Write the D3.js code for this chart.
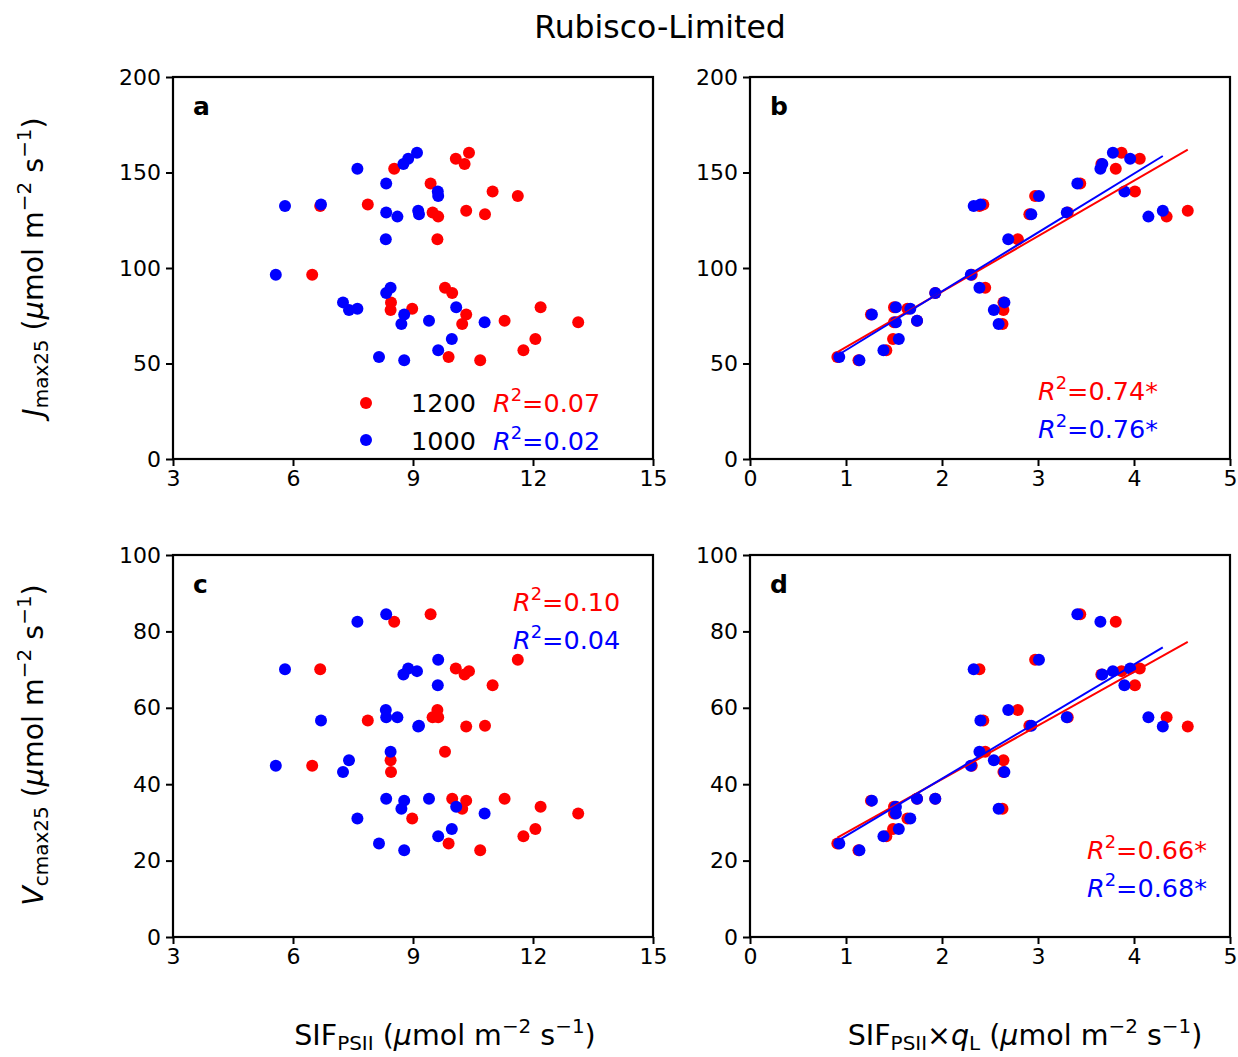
<!DOCTYPE html>
<html>
<head>
<meta charset="utf-8">
<script src="https://cdn.jsdelivr.net/npm/d3@7"></script>
<style>
  html, body { margin: 0; padding: 0; background: #fff; }
  svg { display: block; font-family: "DejaVu Sans", sans-serif; }
</style>
</head>
<body>
<div id="chart"></div>
<script>
// --- data (29 leaves, two light levels) ---
const jmax25 = [160.4, 157.2, 154.5, 152.0, 144.3, 140.1, 137.7, 133.2, 132.5, 129.0, 126.9, 130.0, 128.1, 115.0, 96.5, 89.7, 86.9, 82.0, 78.0, 78.7, 79.4, 75.7, 70.7, 72.4, 71.6, 62.8, 56.9, 53.4, 51.7];
const vcmax25 = [69.6, 70.3, 68.7, 82.5, 84.5, 65.9, 72.6, 56.7, 70.1, 57.5, 57.5, 55.1, 55.3, 59.4, 44.8, 48.5, 36.2, 43.2, 46.3, 31.0, 34.1, 35.7, 33.6, 36.2, 32.3, 28.3, 26.4, 24.5, 22.7];
const sif1200 = [10.40, 10.07, 10.29, 8.53, 9.44, 10.99, 11.62, 7.87, 6.68, 9.49, 9.63, 10.33, 10.80, 9.61, 6.48, 9.80, 9.98, 8.45, 8.44, 8.98, 12.19, 10.33, 10.23, 11.29, 13.13, 12.06, 11.76, 9.89, 10.68];
const sif1000 = [9.10, 8.88, 8.76, 7.61, 8.33, 9.62, 9.63, 6.70, 5.80, 8.33, 8.61, 9.13, 9.15, 8.32, 5.57, 8.44, 8.33, 7.25, 7.40, 7.61, 10.08, 8.78, 8.71, 9.40, 10.79, 9.97, 9.63, 8.15, 8.78];
const sifQl1200 = [3.87, 4.06, 3.66, 3.81, 3.44, 4.01, 2.97, 2.43, 2.39, 3.31, 4.34, 4.56, 2.91, 2.79, 2.31, 2.45, 1.93, 2.64, 2.64, 1.64, 1.50, 1.26, 2.63, 1.74, 1.50, 1.49, 1.42, 0.91, 1.13];
const sifQl1000 = [3.78, 3.96, 3.67, 3.65, 3.41, 3.90, 3.01, 2.40, 2.33, 3.30, 4.15, 4.30, 2.93, 2.69, 2.30, 2.39, 1.93, 2.65, 2.54, 1.67, 1.52, 1.27, 2.59, 1.74, 1.52, 1.55, 1.39, 0.93, 1.14];

// tick values
const sifTicks = [3, 6, 9, 12, 15];
const sifQlTicks = [0, 1, 2, 3, 4, 5];
const jmaxTicks = [0, 50, 100, 150, 200];
const vcmaxTicks = [0, 20, 40, 60, 80, 100];

// regression fits (slope, intercept) and R² labels
const fitJ1200 = [29.05, 29.5], fitJ1000 = [30.8, 26.2];
const fitV1200 = [14.05, 13.2], fitV1000 = [14.95, 11.55];
const r2Labels = {
  a: ["0.07", "0.02"], b: ["0.74*", "0.76*"],
  c: ["0.10", "0.04"], d: ["0.66*", "0.68*"]
};

const RED = "#ff0000", BLUE = "#0000ff";
const W = 1238, H = 1057;

const svg = d3.select("#chart").append("svg")
  .attr("width", W).attr("height", H)
  .attr("viewBox", [0, 0, W, H]);

// write text made of plain / italic / sub / sup pieces
function richText(sel, parts, size) {
  let shift = 0;
  parts.forEach(p => {
    const [str, kind] = p;
    const t = sel.append("tspan").text(str);
    let target = 0;
    if (kind === "sub") target = size * 0.18;
    if (kind === "sup") target = -size * 0.42;
    if (target !== shift) { t.attr("dy", target - shift); shift = target; }
    if (kind === "sub" || kind === "sup") t.attr("font-size", size * 0.7);
    if (kind === "i") t.attr("font-style", "italic");
  });
  return sel;
}

function r2Text(g, x, y, value, color, size) {
  const t = g.append("text").attr("x", x).attr("y", y)
    .attr("fill", color).attr("font-size", size);
  richText(t, [["R", "i"], ["2", "sup"], ["=" + value, null]], size);
}

const panels = [
  { id: "a", left: 173, top: 77, xDom: [3, 15], xTicks: sifTicks, yDom: [0, 200], yTicks: jmaxTicks,
    xr: sif1200, xb: sif1000, y: jmax25, fits: null },
  { id: "b", left: 750, top: 77, xDom: [0, 5], xTicks: sifQlTicks, yDom: [0, 200], yTicks: jmaxTicks,
    xr: sifQl1200, xb: sifQl1000, y: jmax25, fits: [fitJ1200, fitJ1000] },
  { id: "c", left: 173, top: 555, xDom: [3, 15], xTicks: sifTicks, yDom: [0, 100], yTicks: vcmaxTicks,
    xr: sif1200, xb: sif1000, y: vcmax25, fits: null },
  { id: "d", left: 750, top: 555, xDom: [0, 5], xTicks: sifQlTicks, yDom: [0, 100], yTicks: vcmaxTicks,
    xr: sifQl1200, xb: sifQl1000, y: vcmax25, fits: [fitV1200, fitV1000] }
];
const PW = 480, PH = 382;
const TICK_FONT = 22;
const NOTE_FONT = 25.5;

panels.forEach(p => {
  const x = d3.scaleLinear().domain(p.xDom).range([p.left, p.left + PW]);
  const y = d3.scaleLinear().domain(p.yDom).range([p.top + PH, p.top]);
  const g = svg.append("g").attr("class", "panel-" + p.id);

  // points: red (1200) first, blue (1000) on top
  g.append("g").selectAll("circle").data(p.y).join("circle")
    .attr("cx", (d, i) => x(p.xr[i])).attr("cy", d => y(d))
    .attr("r", 6).attr("fill", RED);
  g.append("g").selectAll("circle").data(p.y).join("circle")
    .attr("cx", (d, i) => x(p.xb[i])).attr("cy", d => y(d))
    .attr("r", 6).attr("fill", BLUE);

  // regression lines over the x range of each series
  if (p.fits) {
    [[p.xr, p.fits[0], RED], [p.xb, p.fits[1], BLUE]].forEach(([xs, f, c]) => {
      const ext = d3.extent(xs);
      g.append("line")
        .attr("x1", x(ext[0])).attr("y1", y(f[1] + f[0] * ext[0]))
        .attr("x2", x(ext[1])).attr("y2", y(f[1] + f[0] * ext[1]))
        .attr("stroke", c).attr("stroke-width", 2);
    });
  }

  // axes
  const xAxis = g.append("g").attr("transform", `translate(0,${p.top + PH})`)
    .call(d3.axisBottom(x).tickValues(p.xTicks).tickFormat(d3.format("d")).tickSizeOuter(0).tickSize(7).tickPadding(4));
  const yAxis = g.append("g").attr("transform", `translate(${p.left},0)`)
    .call(d3.axisLeft(y).tickValues(p.yTicks).tickFormat(d3.format("d")).tickSizeOuter(0).tickSize(7).tickPadding(5));
  [xAxis, yAxis].forEach(a => {
    a.select(".domain").remove();
    a.selectAll(".tick line").attr("stroke", "#000").attr("stroke-width", 2);
    a.selectAll(".tick text").attr("fill", "#000")
      .attr("font-size", TICK_FONT).attr("font-family", "DejaVu Sans");
  });

  // frame
  g.append("rect").attr("x", p.left).attr("y", p.top)
    .attr("width", PW).attr("height", PH)
    .attr("fill", "none").attr("stroke", "#000").attr("stroke-width", 2.2);

  // panel letter
  g.append("text").attr("x", p.left + 20).attr("y", p.top + 38)
    .attr("font-size", 25).attr("font-weight", "bold").text(p.id);
});

// panel a legend
const leg = svg.append("g");
[["1200", RED, 403, 412, r2Labels.a[0]], ["1000", BLUE, 440, 450, r2Labels.a[1]]].forEach(([lab, c, cy, by, r2]) => {
  leg.append("circle").attr("cx", 366).attr("cy", cy).attr("r", 6).attr("fill", c);
  leg.append("text").attr("x", 411).attr("y", by).attr("font-size", NOTE_FONT).text(lab);
  r2Text(leg, 493, by, r2, c, NOTE_FONT);
});

// R² labels in b, c, d
r2Text(svg, 1038, 400, r2Labels.b[0], RED, NOTE_FONT);
r2Text(svg, 1038, 438, r2Labels.b[1], BLUE, NOTE_FONT);
r2Text(svg, 513, 611, r2Labels.c[0], RED, NOTE_FONT);
r2Text(svg, 513, 649, r2Labels.c[1], BLUE, NOTE_FONT);
r2Text(svg, 1087, 859, r2Labels.d[0], RED, NOTE_FONT);
r2Text(svg, 1087, 897, r2Labels.d[1], BLUE, NOTE_FONT);

// title
svg.append("text").attr("x", 660).attr("y", 38).attr("text-anchor", "middle")
  .attr("font-size", 31.5).text("Rubisco-Limited");

// axis titles
const LAB = 28.5;
const unitParts = [[" (", null], ["μ", "i"], ["mol m", null], ["−2", "sup"], [" s", null], ["−1", "sup"], [")", null]];

richText(svg.append("text").attr("transform", "translate(43,267) rotate(-90)")
  .attr("text-anchor", "middle").attr("font-size", LAB),
  [["J", "i"], ["max25", "sub"]].concat(unitParts), LAB);
richText(svg.append("text").attr("transform", "translate(43,745) rotate(-90)")
  .attr("text-anchor", "middle").attr("font-size", LAB),
  [["V", "i"], ["cmax25", "sub"]].concat(unitParts), LAB);

richText(svg.append("text").attr("x", 445).attr("y", 1045)
  .attr("text-anchor", "middle").attr("font-size", LAB),
  [["SIF", null], ["PSII", "sub"]].concat(unitParts), LAB);
richText(svg.append("text").attr("x", 1025).attr("y", 1045)
  .attr("text-anchor", "middle").attr("font-size", LAB),
  [["SIF", null], ["PSII", "sub"], ["×", null], ["q", "i"], ["L", "sub"]].concat(unitParts), LAB);
</script>
</body>
</html>
